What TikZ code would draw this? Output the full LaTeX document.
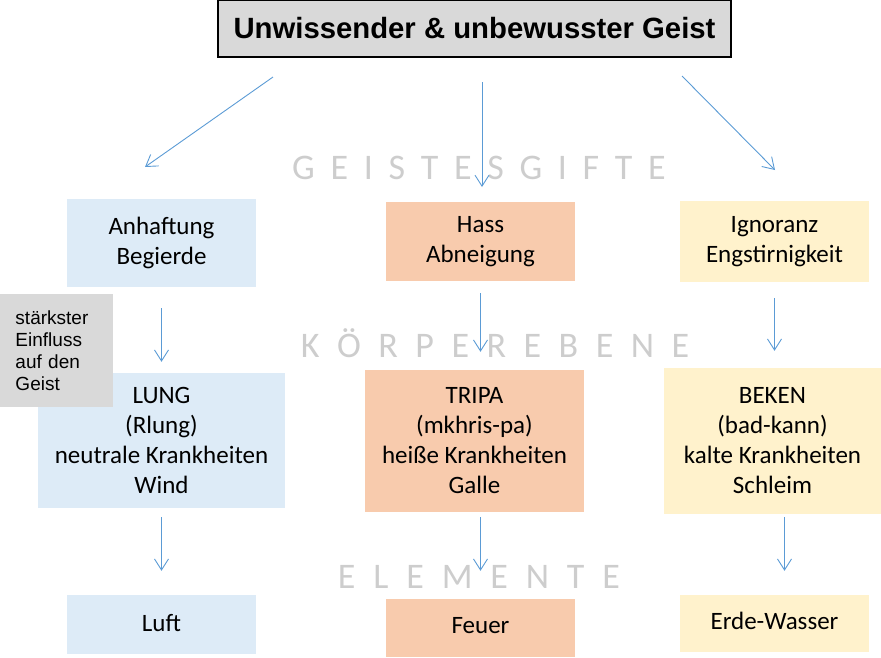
\documentclass[tikz,border=0pt]{standalone}
\usepackage{fontspec}
\setmainfont{Carlito}
\newfontfamily\arialfont{Liberation Sans}
\usetikzlibrary{arrows.meta}
\definecolor{hellblau}{RGB}{221,235,247}
\definecolor{lachs}{RGB}{248,203,173}
\definecolor{creme}{RGB}{255,242,204}
\definecolor{grau}{RGB}{217,217,217}
\definecolor{pfeilblau}{RGB}{91,155,213}
\definecolor{ebenengrau}{RGB}{205,205,205}
\begin{document}
\begin{tikzpicture}[x=1pt,y=-1pt,
  kasten/.style={inner sep=0pt,align=center,font=\fontsize{25}{30}\selectfont},
  pfeil/.style={pfeilblau,line width=0.9pt,-{Straight Barb[length=11pt,width=14pt]}},
  ebenentext/.style={text=ebenengrau,font=\fontsize{36}{40}\selectfont\addfontfeature{LetterSpace=#1}},
  ebenentext/.default=21]
\useasboundingbox (0,0) rectangle (881,657);
% title
\node[fill=grau,draw=black,line width=2pt,minimum width=513pt,minimum height=57pt,
  font=\arialfont\bfseries\fontsize{29.3}{34}\selectfont] (geist) at (474.5,28.5) {Unwissender \& unbewusster Geist};
% the three levels
\node[ebenentext] (geistesgifte) at (479,168) {G E I S T E S G I F T E};
\node[ebenentext=26] (koerperebene) at (495,343) {K Ö R P E R E B E N E};
\node[ebenentext=27] (elemente) at (479,577) {E L E M E N T E};
% Geistesgifte
\node[kasten,fill=hellblau,minimum width=189pt,minimum height=88pt] (anhaftung) at (161.5,243) {Anhaftung\\Begierde};
\node[kasten,fill=lachs,minimum width=189pt,minimum height=79pt] (hass) at (480.5,241.5) {Hass\\Abneigung};
\node[kasten,fill=creme,minimum width=189pt,minimum height=81pt] (ignoranz) at (774.5,241.5) {Ignoranz\\Engstirnigkeit};
% Koerperebene
\node[kasten,fill=hellblau,minimum width=247pt,minimum height=135pt] (lung) at (161.5,440.5) {LUNG\\(Rlung)\\neutrale Krankheiten\\Wind};
\node[kasten,fill=lachs,minimum width=219pt,minimum height=142pt] (tripa) at (474.5,441) {TRIPA\\(mkhris-pa)\\heiße Krankheiten\\Galle};
\node[kasten,fill=creme,minimum width=217pt,minimum height=146pt] (beken) at (772.5,441) {BEKEN\\(bad-kann)\\kalte Krankheiten\\Schleim};
\node[fill=grau,minimum width=113pt,minimum height=113pt,inner sep=0pt,text width=82pt,align=left,
  font=\arialfont\fontsize{19}{22}\selectfont] (einfluss) at (56.5,350.5) {stärkster\\Einfluss\\auf den\\Geist};
% Elemente
\node[kasten,fill=hellblau,minimum width=189pt,minimum height=59pt] (luft) at (161.5,624.5) {\raisebox{4pt}{Luft}};
\node[kasten,fill=lachs,minimum width=189pt,minimum height=58pt] (feuer) at (480.5,628) {\raisebox{5pt}{Feuer}};
\node[kasten,fill=creme,minimum width=189pt,minimum height=57pt] (erde) at (774.5,623.5) {\raisebox{5pt}{Erde-Wasser}};
% arrows
\coordinate (linksab) at (273,77);  \coordinate (linksan) at (145,167);
\coordinate (mitteab) at (482,82);  \coordinate (mittean) at (482,187);
\coordinate (rechtsab) at (682,76); \coordinate (rechtsan) at (775,170);
\draw[pfeil] (linksab) -- (linksan);
\draw[pfeil] (mitteab) -- (mittean);
\draw[pfeil] (rechtsab) -- (rechtsan);
\draw[pfeil,shorten <=21pt,shorten >=11pt] (anhaftung.south) -- (lung.north);
\draw[pfeil,shorten <=12pt,shorten >=18pt] (hass.south) -- (hass.south |- tripa.north);
\draw[pfeil,shorten <=16pt,shorten >=17pt] (ignoranz.south) -- (ignoranz.south |- beken.north);
\draw[pfeil,shorten <=9pt,shorten >=24pt] (lung.south) -- (luft.north);
\draw[pfeil,shorten <=5pt,shorten >=28pt] (feuer.north |- tripa.south) -- (feuer.north);
\coordinate (erdeoben) at ([xshift=10pt]erde.north);
\draw[pfeil,shorten <=3pt,shorten >=24pt] (erdeoben |- beken.south) -- (erdeoben);
\end{tikzpicture}
\end{document}
